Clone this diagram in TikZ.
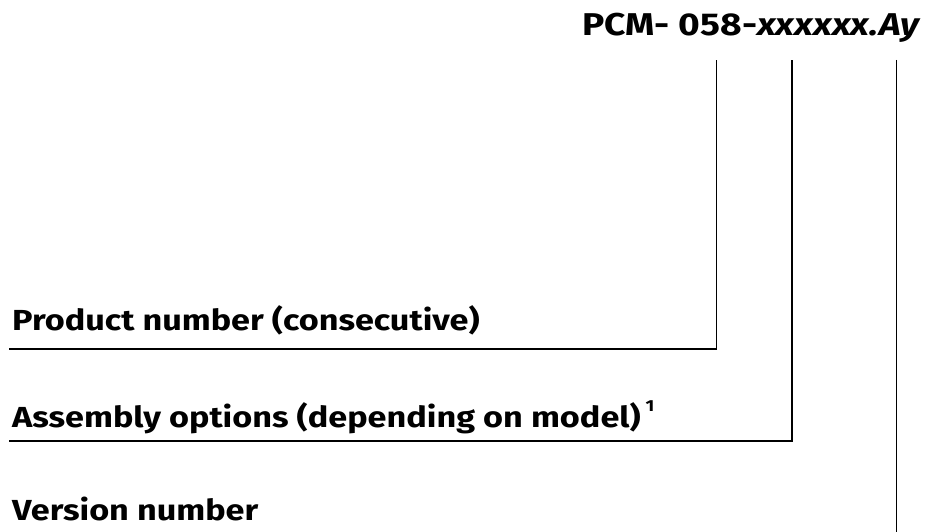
\documentclass[tikz,border=0pt]{standalone}
\usepackage{fontspec}
\setmainfont{Fira Sans}
\newfontfamily\lblfont[FakeStretch=1.18]{Fira Sans}
\begin{document}
\begin{tikzpicture}[x=1pt,y=1pt,
  lbl/.style={anchor=base west,inner sep=0pt,font=\lblfont\fontsize{29}{34}\selectfont\bfseries},
  ttl/.style={anchor=base west,inner sep=0pt,font=\lblfont\fontsize{31.5}{36}\selectfont\bfseries},
  lead/.style={line width=1.5pt,black}]
\useasboundingbox (0,0) rectangle (929,-532);
\node[ttl] (code) at (582,-36) {PCM- 058-\textit{xxxxxx.Ay}};
\node[lbl] (prod) at (12,-330) {Product number (consecutive)};
\node[lbl] (asm) at (12,-427) {Assembly options (depending on model)\,\raisebox{0.55em}{\fontsize{16}{18}\selectfont 1}};
\node[lbl] (ver) at (12,-520) {Version number};
\coordinate (t1) at (716.5,-60);
\coordinate (t2) at (792,-60);
\coordinate (t3) at (896.5,-60);
\coordinate (b3) at (896.5,-532);
\draw[lead] (prod.base west) ++(-3,-19) coordinate (p0) -| (t1);
\draw[lead] (asm.base west) ++(-3,-14) coordinate (a0) -| (t2);
\draw[lead] (t3) -- (b3);
\end{tikzpicture}
\end{document}
